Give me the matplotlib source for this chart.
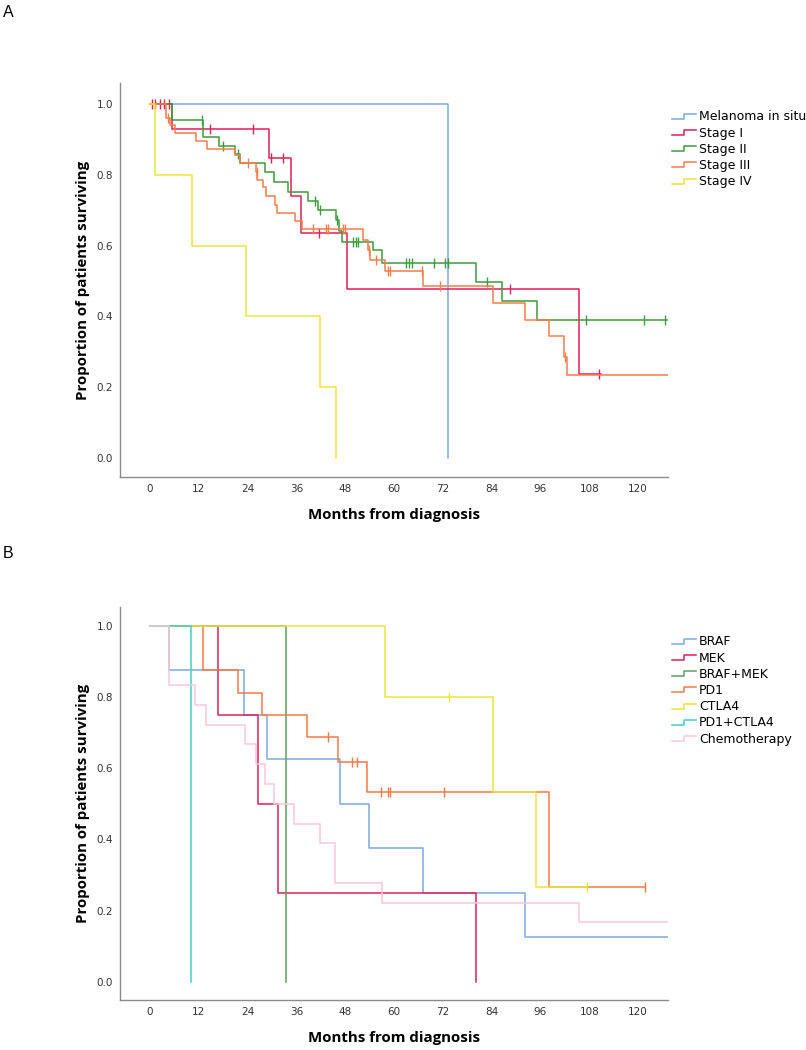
import matplotlib
matplotlib.use("Agg")
import matplotlib.pyplot as plt
import numpy as np
from matplotlib.legend_handler import HandlerBase
from matplotlib.lines import Line2D

# ---- Panel A: survival by stage (months, proportion surviving) ----
insitu_t = [0, 73.3]
insitu_s = [1.0, 0.0]
insitu_end = 73.3
insitu_cens = []

stage1_t = [0, 5.3, 29.2, 34.6, 37.2, 48.5, 105.4]
stage1_s = [1.0, 0.93, 0.847, 0.741, 0.635, 0.476, 0.238]
stage1_end = 110.8
stage1_cens = [0.4, 1.3, 2.4, 3.5, 4.6, 14.7, 25.3, 29.8, 32.6, 41.5, 88.4, 110.5]

stage2_t = [0, 5.3, 13.0, 17.0, 21.0, 22.0, 28.2, 30.4, 33.9, 38.8, 41.4, 45.8, 46.5,
            47.2, 54.7, 57.1, 80.1, 86.6, 95.2]
stage2_s = [1.0, 0.955, 0.908, 0.881, 0.858, 0.832, 0.809, 0.780, 0.752, 0.726, 0.700,
            0.672, 0.640, 0.611, 0.588, 0.550, 0.498, 0.444, 0.390]
stage2_end = 127.4
stage2_cens = [12.7, 18.0, 21.6, 40.6, 41.8, 46.0, 49.8, 50.6, 51.2, 63.0, 63.7, 64.4,
               69.9, 72.5, 73.3, 82.9, 107.2, 121.5, 126.6]

stage3_t = [0, 4.0, 5.0, 6.1, 11.3, 14.1, 20.8, 22.0, 26.0, 26.4, 27.8, 28.4, 30.6, 31.2,
            35.7, 37.4, 52.3, 53.7, 54.1, 57.8, 67.2, 84.4, 92.3, 98.2, 101.9, 102.5]
stage3_s = [1.0, 0.96, 0.94, 0.917, 0.894, 0.872, 0.857, 0.832, 0.809, 0.784, 0.765, 0.741,
            0.715, 0.691, 0.668, 0.646, 0.616, 0.588, 0.559, 0.529, 0.487, 0.439, 0.390,
            0.343, 0.286, 0.234]
stage3_end = 127.4
stage3_cens = [4.3, 24.1, 26.2, 40.0, 43.3, 43.8, 47.4, 47.9, 53.8, 55.5, 58.4, 59.0,
               66.8, 71.2, 102.1]

stage4_t = [0, 1.2, 10.2, 23.5, 41.8, 45.6]
stage4_s = [1.0, 0.8, 0.6, 0.4, 0.2, 0.0]
stage4_end = 45.6
stage4_cens = []

# ---- Panel B: survival by treatment ----
braf_t = [0, 4.7, 23.1, 28.8, 46.8, 53.8, 67.2, 92.2]
braf_s = [1.0, 0.875, 0.75, 0.625, 0.5, 0.375, 0.25, 0.125]
braf_end = 127.4
braf_cens = []

mek_t = [0, 16.6, 26.6, 31.4, 80.1]
mek_s = [1.0, 0.75, 0.5, 0.25, 0.0]
mek_end = 80.1
mek_cens = []

brafmek_t = [0, 33.5]
brafmek_s = [1.0, 0.0]
brafmek_end = 33.5
brafmek_cens = []

pd1_t = [0, 12.9, 21.7, 27.6, 38.6, 46.3, 53.3, 98.2]
pd1_s = [1.0, 0.875, 0.8125, 0.75, 0.688, 0.619, 0.533, 0.267]
pd1_end = 121.6
pd1_cens = [43.7, 49.6, 50.9, 56.9, 58.5, 59.1, 72.2, 121.6]

ctla4_t = [0, 57.8, 84.3, 95.0]
ctla4_s = [1.0, 0.8, 0.533, 0.267]
ctla4_end = 107.4
ctla4_cens = [73.4, 107.4]

combo_t = [0, 10.0]
combo_s = [1.0, 0.0]
combo_end = 10.0
combo_cens = []

chemo_t = [0, 4.7, 11.0, 13.7, 23.3, 26.0, 28.2, 30.5, 35.5, 41.8, 45.4, 57.0, 105.6]
chemo_s = [1.0, 0.833, 0.778, 0.722, 0.667, 0.611, 0.556, 0.5, 0.444, 0.389, 0.278,
           0.222, 0.167]
chemo_end = 127.4
chemo_cens = []

x_ticks = list(range(0, 121, 12))
y_ticks = [0.0, 0.2, 0.4, 0.6, 0.8, 1.0]

series_a = [
    ("Melanoma in situ", insitu_t, insitu_s, insitu_end, insitu_cens, "#7ea8e2"),
    ("Stage I", stage1_t, stage1_s, stage1_end, stage1_cens, "#dc2158"),
    ("Stage II", stage2_t, stage2_s, stage2_end, stage2_cens, "#3e9a3e"),
    ("Stage III", stage3_t, stage3_s, stage3_end, stage3_cens, "#f67c4c"),
    ("Stage IV", stage4_t, stage4_s, stage4_end, stage4_cens, "#ece43c"),
]
series_b = [
    ("BRAF", braf_t, braf_s, braf_end, braf_cens, "#7ea8e2"),
    ("MEK", mek_t, mek_s, mek_end, mek_cens, "#dc2158"),
    ("BRAF+MEK", brafmek_t, brafmek_s, brafmek_end, brafmek_cens, "#5e9e5e"),
    ("PD1", pd1_t, pd1_s, pd1_end, pd1_cens, "#f57a45"),
    ("CTLA4", ctla4_t, ctla4_s, ctla4_end, ctla4_cens, "#ece43c"),
    ("PD1+CTLA4", combo_t, combo_s, combo_end, combo_cens, "#45cfc0"),
    ("Chemotherapy", chemo_t, chemo_s, chemo_end, chemo_cens, "#f9c6dc"),
]


class StepHandler(HandlerBase):
    # SPSS-like step glyph for the legend
    def create_artists(self, legend, orig_handle, xdescent, ydescent, width, height,
                       fontsize, trans):
        x0 = -xdescent
        xm = x0 + width * 0.5
        x1 = x0 + width
        ylo = -ydescent + height * 0.2
        yhi = -ydescent + height * 0.75
        ln = Line2D([x0, xm, xm, x1], [ylo, ylo, yhi, yhi],
                    color=orig_handle.get_color(), lw=orig_handle.get_linewidth(),
                    transform=trans)
        return [ln]


def km_panel(ax, series):
    handles = []
    for name, t, s, end, cens, col in series:
        xs = list(t) + ([end] if end > t[-1] else [])
        ys = list(s) + ([s[-1]] if end > t[-1] else [])
        ln, = ax.step(xs, ys, where="post", color=col, lw=1.1, label=name)
        if cens:
            idx = np.searchsorted(t, cens, side="right") - 1
            cy = np.array(s)[idx]
            ax.plot(cens, cy, ls="none", marker="|", ms=6.5, mew=1.0, color=col)
        handles.append(ln)
    ax.set_xlim(-7.4, 127.4)
    ax.set_xticks(x_ticks)
    ax.set_yticks(y_ticks)
    ax.set_yticklabels([f"{v:.1f}" for v in y_ticks])
    ax.tick_params(length=0, labelsize=7.5, labelcolor="#333333", pad=5)
    for sp in ["top", "right"]:
        ax.spines[sp].set_visible(False)
    for sp in ["left", "bottom"]:
        ax.spines[sp].set_color("#8a8a8a")
        ax.spines[sp].set_linewidth(1.0)
    ax.set_xlabel("Months from diagnosis", fontsize=10.8, fontweight="bold",
                  family="Open Sans", labelpad=10)
    ax.set_ylabel("Proportion of patients surviving", fontsize=10.8, fontweight="bold",
                  family="Open Sans", labelpad=5)
    return handles


fig = plt.figure(figsize=(8.06, 10.5), dpi=100)

ax1 = fig.add_axes([0.1489, 0.5457, 0.680, 0.3752])
h1 = km_panel(ax1, series_a)
ax1.set_ylim(-0.054, 1.059)
ax1.legend(handles=h1, loc="upper left", bbox_to_anchor=(0.8337, 0.895),
           bbox_transform=fig.transFigure, frameon=False, fontsize=9,
           handler_map={Line2D: StepHandler()}, handlelength=1.9,
           handletextpad=0.25, labelspacing=0.26, borderpad=0, borderaxespad=0)

ax2 = fig.add_axes([0.1489, 0.0476, 0.680, 0.3743])
h2 = km_panel(ax2, series_b)
ax2.set_ylim(-0.051, 1.053)
ax2.legend(handles=h2, loc="upper left", bbox_to_anchor=(0.8337, 0.395),
           bbox_transform=fig.transFigure, frameon=False, fontsize=9,
           handler_map={Line2D: StepHandler()}, handlelength=1.9,
           handletextpad=0.25, labelspacing=0.26, borderpad=0, borderaxespad=0)

fig.text(0.004, 0.988, "A", fontsize=11.5, family="Liberation Sans", va="center")
fig.text(0.004, 0.473, "B", fontsize=11.5, family="Liberation Sans", va="center")

fig.savefig("out.png", dpi=100)
